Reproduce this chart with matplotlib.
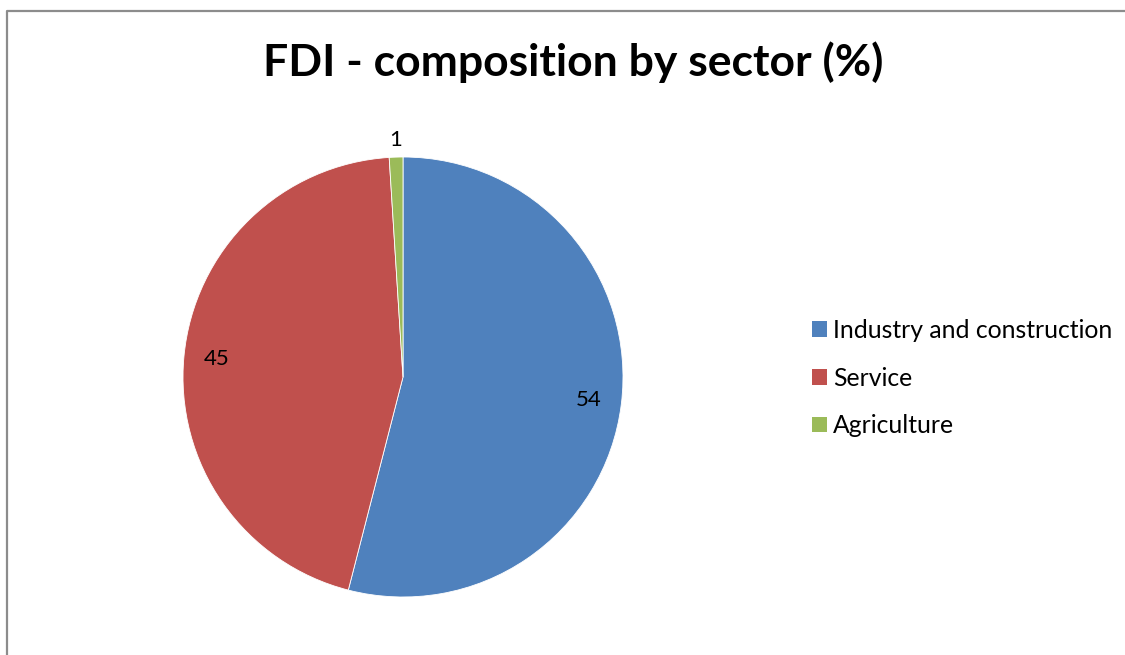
import matplotlib
matplotlib.use("Agg")
import matplotlib.pyplot as plt
import numpy as np
from matplotlib.lines import Line2D
from matplotlib.patches import Patch

sectors = ["Industry and construction", "Service", "Agriculture"]
shares = [54, 45, 1]
colors = ["#4F81BD", "#C0504D", "#9BBB59"]

plt.rcParams["font.family"] = ["Lato", "DejaVu Sans"]

W, H = 1125, 655
fig = plt.figure(figsize=(W / 100, H / 100), dpi=100)

# outer chart frame: only left and top edges are inside the picture
fx, fy = 6.5 / W, 1 - 10.5 / H
fig.add_artist(Line2D([fx, fx, 1.0], [0.0, fy, fy], transform=fig.transFigure,
                      color="#8C8C8C", lw=1.6))

cx, cy, r = 403, 377, 220
ax = fig.add_axes([(cx - r) / W, (H - cy - r) / H, 2 * r / W, 2 * r / H])
wedges, _ = ax.pie(shares, colors=colors, startangle=90, counterclock=False, radius=1,
                   wedgeprops=dict(lw=0.6, ec="white"))
ax.set_xlim(-1, 1); ax.set_ylim(-1, 1); ax.set_aspect("equal"); ax.axis("off")

for w, v in zip(wedges, shares):
    ang = np.deg2rad((w.theta1 + w.theta2) / 2)
    d = 1.08 if v < 5 else 0.85
    ax.text(d * np.cos(ang), d * np.sin(ang), str(v), ha="center", va="center", fontsize=16)

fig.text(573 / W, 1 - 62 / H, "FDI - composition by sector (%)", ha="center", va="center",
         fontsize=32, fontweight="bold")

handles = [Patch(fc=c, ec="none") for c in colors]
fig.legend(handles, sectors, loc="center left", bbox_to_anchor=(800 / W, 1 - 378 / H),
           frameon=False, fontsize=17.8, handlelength=0.61, handleheight=0.61,
           handletextpad=0.24, labelspacing=1.0, borderpad=0)

fig.savefig("out.png", dpi=100)
